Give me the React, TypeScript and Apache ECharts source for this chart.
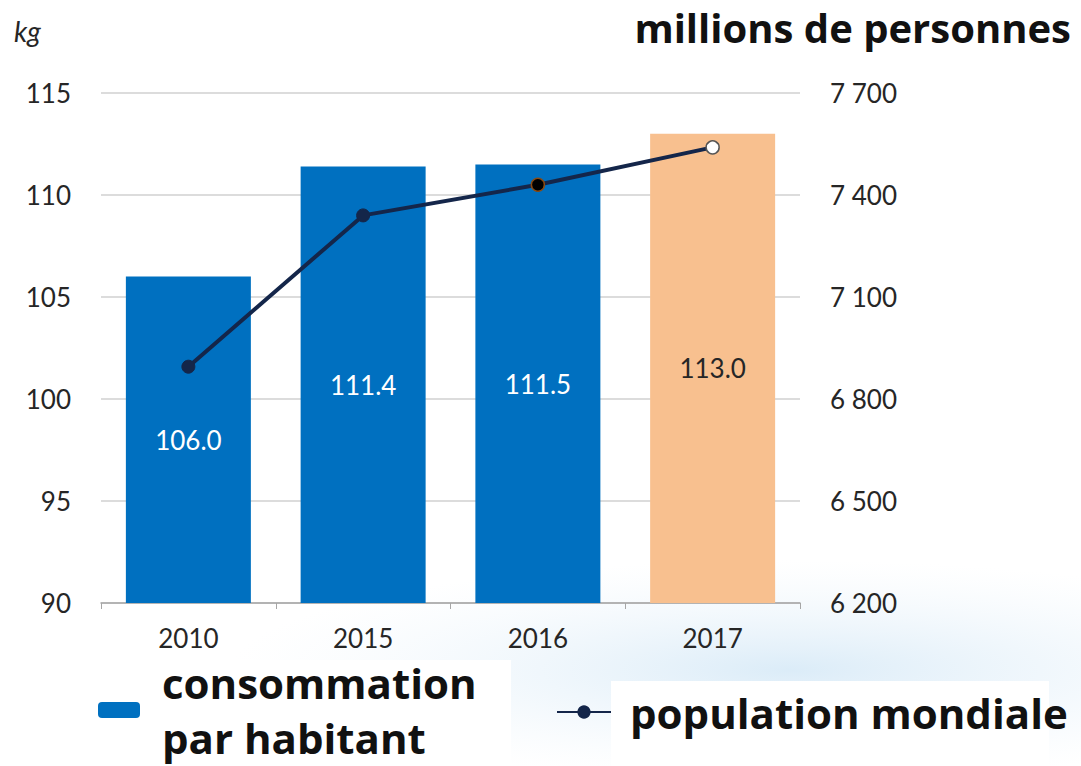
import React, { useEffect, useRef } from "react";
import * as echarts from "echarts";

const years = ["2010", "2015", "2016", "2017"];
const consommation = [106.0, 111.4, 111.5, 113.0];
const population = [6895, 7340, 7430, 7540];
const leftTicks = { min: 90, max: 115, interval: 5 };
const rightTicks = { min: 6200, max: 7700, interval: 300 };

const BLUE = "#0070c0";
const PEACH = "#f8c08f";
const NAVY = "#14264a";

export default function App() {
  const ref = useRef<HTMLDivElement>(null);
  useEffect(() => {
    const chart = echarts.init(ref.current!, null, { renderer: "svg" });
    const fmtThousands = (v: number) => {
      const s = String(Math.round(v));
      return s.replace(/\B(?=(\d{3})+(?!\d))/g, " ");
    };
    chart.setOption({
      animation: false,
      backgroundColor: "#ffffff",
      textStyle: { fontFamily: "Lato, 'Open Sans', sans-serif" },
      grid: { left: 101, right: 281, top: 93, bottom: 163 },
      graphic: [
        {
          type: "ellipse",
          z: -10,
          silent: true,
          shape: { cx: 790, cy: 670, rx: 560, ry: 110 },
          style: {
            fill: new echarts.graphic.RadialGradient(0.5, 0.5, 0.5, [
              { offset: 0, color: "rgba(210,231,246,0.8)" },
              { offset: 1, color: "rgba(235,244,251,0)" },
            ]),
          },
        },
        {
          type: "rect",
          z: -9,
          silent: true,
          shape: { x: 141, y: 660, width: 370, height: 106 },
          style: { fill: "#ffffff" },
        },
        {
          type: "rect",
          z: -9,
          silent: true,
          shape: { x: 611, y: 681, width: 438, height: 85 },
          style: { fill: "#ffffff" },
        },
        {
          type: "text",
          left: 14,
          top: 17,
          style: {
            text: "kg",
            font: "italic 28px Lato, sans-serif",
            fill: "#262626",
          },
        },
        {
          type: "text",
          right: 10,
          top: 7,
          style: {
            text: "millions de personnes",
            font: "bold 40px 'Open Sans', sans-serif",
            fill: "#111111",
          },
        },
      ],
      legend: [
        {
          data: ["consommation\npar habitant"],
          left: 98,
          top: 655,
          padding: 0,
          itemWidth: 42,
          itemHeight: 16,
          textStyle: {
            fontFamily: "'Open Sans', sans-serif",
            fontWeight: "bold",
            fontSize: 42,
            lineHeight: 55,
            color: "#111111",
            padding: [0, 0, 0, 17],
          },
        },
        {
          data: ["population mondiale"],
          left: 556,
          top: 686,
          padding: 0,
          itemWidth: 54,
          itemHeight: 14,
          textStyle: {
            fontFamily: "'Open Sans', sans-serif",
            fontWeight: "bold",
            fontSize: 42,
            lineHeight: 52,
            color: "#111111",
            padding: [0, 0, 0, 14],
          },
        },
      ],
      xAxis: {
        type: "category",
        data: years,
        boundaryGap: true,
        axisLine: { lineStyle: { color: "#a6a6a6", width: 1.5 } },
        axisTick: { show: true, length: 6, lineStyle: { color: "#a6a6a6" } },
        axisLabel: { color: "#262626", fontSize: 26, margin: 22, fontFamily: "Lato, sans-serif" },
      },
      yAxis: [
        {
          type: "value",
          min: leftTicks.min,
          max: leftTicks.max,
          interval: leftTicks.interval,
          axisLine: { show: false },
          axisTick: { show: false },
          splitLine: { lineStyle: { color: "#d0d0d0", width: 1.5 } },
          axisLabel: { color: "#262626", fontSize: 26, margin: 30, fontFamily: "Lato, sans-serif" },
        },
        {
          type: "value",
          min: rightTicks.min,
          max: rightTicks.max,
          interval: rightTicks.interval,
          position: "right",
          axisLine: { show: false },
          axisTick: { show: false },
          splitLine: { show: false },
          axisLabel: {
            color: "#262626",
            fontSize: 26,
            margin: 30,
            fontFamily: "Lato, sans-serif",
            formatter: fmtThousands,
          },
        },
      ],
      series: [
        {
          name: "consommation\npar habitant",
          type: "bar",
          yAxisIndex: 0,
          barWidth: 125,
          itemStyle: { color: BLUE },
          data: consommation.map((v, i) => ({
            value: v,
            itemStyle: { color: i === 3 ? PEACH : BLUE },
            label: { color: i === 3 ? "#262626" : "#ffffff" },
          })),
          label: {
            show: true,
            position: "inside",
            fontSize: 26,
            fontFamily: "Lato, sans-serif",
            formatter: (p: any) => Number(p.value).toFixed(1),
          },
        },
        {
          name: "population mondiale",
          type: "line",
          yAxisIndex: 1,
          symbol: "circle",
          symbolSize: 13,
          lineStyle: { color: NAVY, width: 4 },
          itemStyle: { color: NAVY, borderColor: NAVY, borderWidth: 1 },
          data: population.map((v, i) => ({
            value: v,
            itemStyle:
              i === 2
                ? { color: "#000000", borderColor: "#8a4a12", borderWidth: 1.5 }
                : i === 3
                ? { color: "#ffffff", borderColor: "#555555", borderWidth: 1.5 }
                : { color: NAVY, borderColor: NAVY, borderWidth: 1 },
          })),
          z: 5,
        },
      ],
    });
    return () => chart.dispose();
  }, []);
  return (
    <div
      ref={ref}
      style={{ position: "absolute", left: 0, top: 0, width: 1081, height: 766 }}
    />
  );
}
